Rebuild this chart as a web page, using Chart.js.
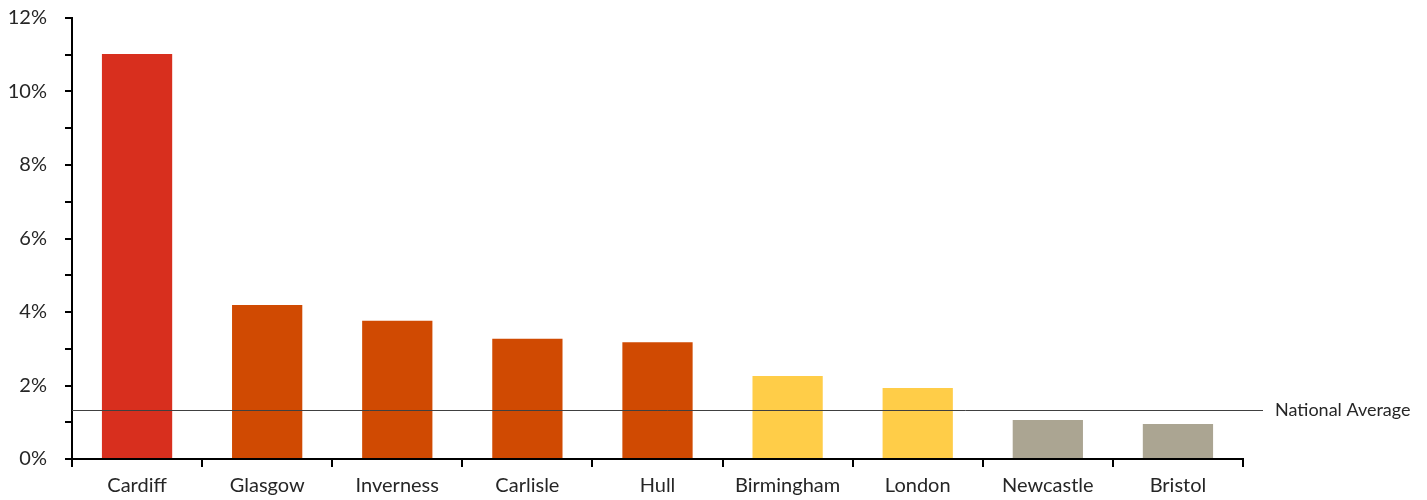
<!DOCTYPE html>
<html>
<head>
<meta charset="utf-8">
<script src="https://cdn.jsdelivr.net/npm/chart.js@4"></script>
<style>
  html, body { margin: 0; padding: 0; background: #fff; }
  #wrap { width: 1427px; height: 500px; }
</style>
</head>
<body>
<div id="wrap"><canvas id="chart"></canvas></div>
<script>
const cities = ["Cardiff", "Glasgow", "Inverness", "Carlisle", "Hull", "Birmingham", "London", "Newcastle", "Bristol"];
const shares = [11.02, 4.19, 3.76, 3.27, 3.18, 2.26, 1.93, 1.06, 0.95];
const barColours = ["#D82F1E", "#D04A02", "#D04A02", "#D04A02", "#D04A02", "#FFCD48", "#FFCD48", "#ABA592", "#ABA592"];
const nationalAverage = 1.32;
const averageLabel = "National Average";

// horizontal reference line with its label to the right of the plot
const averageLine = {
  id: "averageLine",
  afterDatasetsDraw(chart) {
    const ctx = chart.ctx;
    const x = chart.scales.x;
    const y = chart.scales.y.getPixelForValue(nationalAverage);
    ctx.save();
    ctx.strokeStyle = "#404040";
    ctx.lineWidth = 1;
    ctx.beginPath();
    ctx.moveTo(x.left, Math.round(y) + 0.5);
    ctx.lineTo(x.right + 20, Math.round(y) + 0.5);
    ctx.stroke();
    ctx.fillStyle = "#262626";
    ctx.font = "18px Lato";
    ctx.textBaseline = "middle";
    ctx.fillText(averageLabel, x.right + 32, y);
    ctx.restore();
  }
};

const ctx = document.getElementById("chart").getContext("2d");
new Chart(ctx, {
  type: "bar",
  data: {
    labels: cities,
    datasets: [{
      data: shares,
      backgroundColor: barColours,
      categoryPercentage: 1,
      barPercentage: 0.54
    }]
  },
  options: {
    responsive: true,
    maintainAspectRatio: false,
    animation: false,
    layout: { padding: { top: 18, right: 184, left: 0, bottom: 0 } },
    plugins: {
      legend: { display: false },
      tooltip: { enabled: false }
    },
    scales: {
      x: {
        grid: { offset: true, drawOnChartArea: false, tickLength: 8, color: "#000", lineWidth: 2 },
        border: { color: "#000", width: 2 },
        ticks: { color: "#262626", font: { family: "Lato", size: 20 }, padding: 7, maxRotation: 0 },
        afterFit(scale) { scale.height = 41; scale.paddingLeft = 0; scale.paddingRight = 0; }
      },
      y: {
        min: 0,
        max: 12,
        grid: { drawOnChartArea: false, tickLength: 7, color: "#000", lineWidth: 2 },
        border: { color: "#000", width: 2 },
        ticks: {
          stepSize: 1,
          color: "#262626",
          font: { family: "Lato", size: 20 },
          padding: 18,
          callback: v => (v % 2 === 0 ? v + "%" : "")
        },
        afterFit(scale) { scale.width = 72; scale.paddingTop = 0; scale.paddingBottom = 0; }
      }
    }
  },
  plugins: [averageLine]
});
</script>
</body>
</html>
